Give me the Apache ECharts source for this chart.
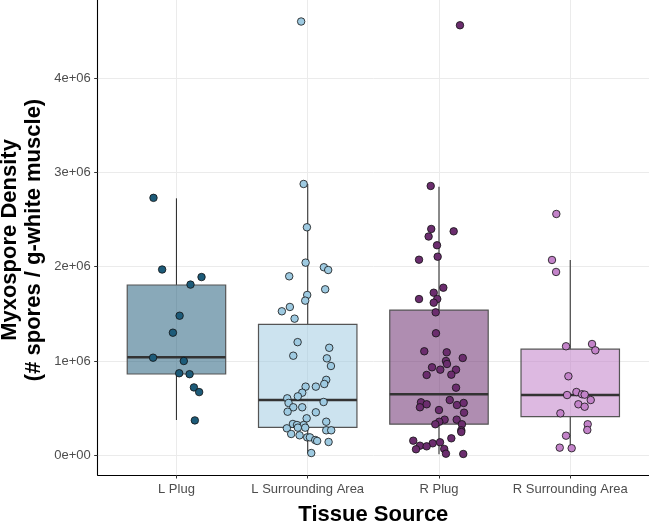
<!DOCTYPE html>
<html lang="en">
<head>
    <meta charset="UTF-8">
    <title>Myxospore density</title>
    <script src="https://cdn.jsdelivr.net/npm/echarts@6.0.0/dist/echarts.min.js"></script>
    <style>
        * {
            margin: 0;
            padding: 0
        }

        html, body {
            width: 100%;
            height: 100%;
            background: #fff;
        }
    </style>
</head>
<body>
<div id="main" style="width: 649px;height:521px;"></div>
<script type="text/javascript">
    // categories on the x axis
    var categories = ['L Plug', 'L Surrounding Area', 'R Plug', 'R Surrounding Area'];
    var yTicks = [0, 1e6, 2e6, 3e6, 4e6];

    // box stats: [lower whisker, Q1, median, Q3, upper whisker]
    var lPlugBox = [0.374e6, 0.862e6, 1.04e6, 1.806e6, 2.725e6];
    var lSurrBox = [0.024e6, 0.297e6, 0.586e6, 1.389e6, 2.877e6];
    var rPlugBox = [0.010e6, 0.330e6, 0.647e6, 1.540e6, 2.848e6];
    var rSurrBox = [0.070e6, 0.410e6, 0.640e6, 1.125e6, 2.071e6];

    // jittered points: [horizontal jitter, density]
    var lPlugPts = [
        [-0.175, 2.73e6], [-0.109, 1.97e6], [0.191, 1.89e6], [0.107, 1.81e6], [0.024, 1.48e6],
        [-0.027, 1.30e6], [-0.178, 1.035e6], [0.056, 1.00e6], [0.021, 0.87e6], [0.10, 0.86e6],
        [0.133, 0.72e6], [0.173, 0.67e6], [0.14, 0.37e6]
    ];
    var lSurrPts = [
        [-0.05, 4.60e6], [-0.031, 2.877e6], [-0.006, 2.418e6], [-0.016, 2.043e6], [0.123, 1.994e6],
        [0.156, 1.965e6], [-0.141, 1.898e6], [0.133, 1.76e6], [-0.004, 1.70e6], [-0.019, 1.64e6],
        [-0.136, 1.573e6], [-0.197, 1.527e6], [-0.10, 1.449e6], [-0.077, 1.20e6], [0.164, 1.14e6],
        [-0.11, 1.056e6], [0.146, 1.028e6], [0.177, 0.947e6], [0.141, 0.80e6], [0.126, 0.756e6],
        [0.062, 0.728e6], [-0.016, 0.728e6], [-0.042, 0.664e6], [-0.075, 0.625e6], [-0.156, 0.604e6],
        [-0.146, 0.555e6], [0.121, 0.565e6], [-0.11, 0.509e6], [-0.042, 0.509e6], [-0.153, 0.462e6],
        [0.062, 0.456e6], [-0.008, 0.392e6], [0.141, 0.356e6], [-0.113, 0.332e6], [-0.082, 0.321e6],
        [-0.031, 0.321e6], [-0.159, 0.286e6], [-0.075, 0.293e6], [-0.019, 0.293e6], [0.141, 0.265e6],
        [0.179, 0.265e6], [-0.126, 0.226e6], [-0.062, 0.212e6], [-0.004, 0.19e6], [0.017, 0.19e6],
        [0.057, 0.162e6], [0.072, 0.152e6], [0.159, 0.141e6], [0.027, 0.024e6]
    ];
    var rPlugPts = [
        [0.16, 4.56e6], [-0.063, 2.856e6], [-0.059, 2.40e6], [0.112, 2.375e6], [-0.079, 2.32e6],
        [-0.015, 2.227e6], [-0.01, 2.106e6], [-0.152, 2.074e6], [0.033, 1.777e6], [-0.04, 1.724e6],
        [-0.152, 1.657e6], [-0.013, 1.657e6], [-0.04, 1.618e6], [-0.025, 1.516e6], [-0.023, 1.294e6],
        [-0.112, 1.103e6], [0.059, 1.092e6], [0.181, 1.032e6], [0.053, 1.00e6], [0.061, 0.968e6],
        [-0.053, 0.933e6], [0.01, 0.908e6], [0.13, 0.908e6], [-0.094, 0.852e6], [0.094, 0.855e6],
        [0.13, 0.717e6], [-0.137, 0.562e6], [-0.094, 0.541e6], [-0.145, 0.509e6], [0.082, 0.586e6],
        [0.137, 0.533e6], [0.188, 0.555e6], [0.0, 0.48e6], [0.191, 0.452e6], [0.043, 0.378e6],
        [0.002, 0.356e6], [0.135, 0.378e6], [-0.028, 0.329e6], [0.175, 0.329e6], [0.17, 0.265e6],
        [0.17, 0.247e6], [0.094, 0.18e6], [-0.196, 0.155e6], [0.008, 0.138e6], [-0.048, 0.127e6],
        [-0.145, 0.102e6], [-0.094, 0.095e6], [-0.175, 0.064e6], [0.04, 0.067e6], [0.053, 0.017e6],
        [0.185, 0.014e6]
    ];
    var rSurrPts = [
        [-0.106, 2.559e6], [-0.139, 2.071e6], [-0.108, 1.944e6], [-0.032, 1.156e6], [0.166, 1.18e6],
        [0.191, 1.113e6], [-0.014, 0.838e6], [0.047, 0.671e6], [-0.024, 0.639e6], [0.09, 0.647e6],
        [0.11, 0.643e6], [0.156, 0.586e6], [0.062, 0.541e6], [0.11, 0.515e6], [-0.075, 0.445e6],
        [0.133, 0.329e6], [0.13, 0.268e6], [-0.032, 0.208e6], [-0.08, 0.081e6], [0.011, 0.075e6]
    ];

    var pointColors = ['#1d5b79', '#9ecae1', '#6b2d6e', '#c383c9'];
    var boxFills = ['rgba(29,91,121,0.52)', 'rgba(158,202,225,0.52)', 'rgba(107,45,110,0.54)', 'rgba(195,131,201,0.56)'];

    var boxes = [lPlugBox, lSurrBox, rPlugBox, rSurrBox];
    var pointSets = [lPlugPts, lSurrPts, rPlugPts, rSurrPts];

    function sciLabel(v) {
        if (v === 0) return '0e+00';
        var e = Math.floor(Math.log10(Math.abs(v)));
        var m = Math.round(v / Math.pow(10, e) * 100) / 100;
        return m + 'e+' + (e < 10 ? '0' + e : e);
    }

    var boxData = boxes.map(function (b, i) {
        return [i + 1].concat(b);
    });

    var halfWidth = 0.375;

    function renderBox(params, api) {
        var x = api.value(0);
        var lo = api.coord([x, api.value(1)]);
        var q1 = api.coord([x, api.value(2)]);
        var med = api.coord([x, api.value(3)]);
        var q3 = api.coord([x, api.value(4)]);
        var hi = api.coord([x, api.value(5)]);
        var left = api.coord([x - halfWidth, api.value(3)])[0];
        var right = api.coord([x + halfWidth, api.value(3)])[0];
        var lineStyle = {stroke: '#333', lineWidth: 1.1};
        return {
            type: 'group',
            children: [
                {type: 'line', shape: {x1: q3[0], y1: q3[1], x2: hi[0], y2: hi[1]}, style: lineStyle},
                {type: 'line', shape: {x1: lo[0], y1: lo[1], x2: q1[0], y2: q1[1]}, style: lineStyle},
                {
                    type: 'rect',
                    shape: {x: left, y: q3[1], width: right - left, height: q1[1] - q3[1]},
                    style: {fill: boxFills[params.dataIndex], stroke: '#555', lineWidth: 1.2}
                },
                {
                    type: 'line',
                    shape: {x1: left, y1: med[1], x2: right, y2: med[1]},
                    style: {stroke: '#333', lineWidth: 2.6}
                }
            ]
        };
    }

    var series = [{
        type: 'custom',
        renderItem: renderBox,
        data: boxData,
        encode: {x: 0, y: [1, 2, 3, 4, 5]},
        z: 2
    }];

    pointSets.forEach(function (pts, i) {
        series.push({
            type: 'scatter',
            symbol: 'circle',
            symbolSize: 7.5,
            z: 3,
            itemStyle: {color: pointColors[i], borderColor: '#111', borderWidth: 0.8, opacity: 1},
            data: pts.map(function (p) {
                return [i + 1 + p[0], p[1]];
            })
        });
    });

    var myChart = echarts.init(document.getElementById('main'));

    var option = {
        backgroundColor: '#fff',
        animation: false,
        grid: {left: 97.7, right: 0, top: 0, bottom: 46, containLabel: false, outerBoundsMode: 'none'},
        xAxis: {
            type: 'value',
            min: 0.4,
            max: 4.6,
            name: 'Tissue Source',
            nameLocation: 'middle',
            nameGap: 29,
            nameTextStyle: {fontSize: 22, fontWeight: 'bold', color: '#000', fontFamily: 'Liberation Sans'},
            axisLine: {show: true, onZero: false, lineStyle: {color: '#000', width: 1.1}},
            axisTick: {show: true, length: 3.5, lineStyle: {color: '#333'}, customValues: [1, 2, 3, 4]},
            axisLabel: {
                customValues: [1, 2, 3, 4],
                margin: 8,
                fontSize: 13,
                color: '#4d4d4d',
                fontFamily: 'Liberation Sans',
                formatter: function (v) {
                    return categories[Math.round(v) - 1];
                }
            },
            splitLine: {show: true, lineStyle: {color: '#ebebeb', width: 1}}
        },
        yAxis: {
            type: 'value',
            min: -0.209e6,
            max: 4.828e6,
            axisLine: {show: true, onZero: false, lineStyle: {color: '#000', width: 1.1}},
            axisTick: {show: true, length: 3.5, lineStyle: {color: '#333'}, customValues: yTicks},
            axisLabel: {
                customValues: yTicks,
                margin: 7,
                fontSize: 13,
                color: '#4d4d4d',
                fontFamily: 'Liberation Sans',
                formatter: sciLabel
            },
            splitLine: {show: true, lineStyle: {color: '#ebebeb', width: 1}}
        },
        graphic: [{
            type: 'text',
            x: 22,
            y: 240,
            rotation: Math.PI / 2,
            style: {
                text: 'Myxospore Density\n(# spores / g-white muscle)',
                font: 'bold 22px "Liberation Sans"',
                lineHeight: 24,
                fill: '#000',
                align: 'center',
                verticalAlign: 'middle'
            }
        }],
        series: series
    };

    myChart.setOption(option);
</script>
</body>
</html>
